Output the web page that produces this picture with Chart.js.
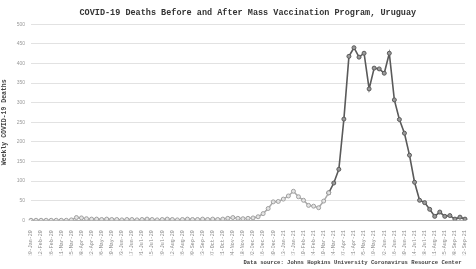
<!DOCTYPE html>
<html>
<head>
<meta charset="utf-8">
<script src="https://cdn.jsdelivr.net/npm/chart.js@4.4.1/dist/chart.umd.min.js"></script>
<style>
  html, body { margin: 0; padding: 0; background: #fff; }
  #wrap { width: 476px; height: 269px; }
</style>
</head>
<body>
<div id="wrap"><canvas id="deathsChart"></canvas></div>
<script>
// Weekly dates (x axis categories)
const weeks = [
  "29-Jan-20", "05-Feb-20", "12-Feb-20", "19-Feb-20", "26-Feb-20", "04-Mar-20",
  "11-Mar-20", "18-Mar-20", "25-Mar-20", "01-Apr-20", "08-Apr-20", "15-Apr-20",
  "22-Apr-20", "29-Apr-20", "06-May-20", "13-May-20", "20-May-20", "27-May-20",
  "03-Jun-20", "10-Jun-20", "17-Jun-20", "24-Jun-20", "01-Jul-20", "08-Jul-20",
  "15-Jul-20", "22-Jul-20", "29-Jul-20", "05-Aug-20", "12-Aug-20", "19-Aug-20",
  "26-Aug-20", "02-Sep-20", "09-Sep-20", "16-Sep-20", "23-Sep-20", "30-Sep-20",
  "07-Oct-20", "14-Oct-20", "21-Oct-20", "28-Oct-20", "04-Nov-20", "11-Nov-20",
  "18-Nov-20", "25-Nov-20", "02-Dec-20", "09-Dec-20", "16-Dec-20", "23-Dec-20",
  "30-Dec-20", "06-Jan-21", "13-Jan-21", "20-Jan-21", "27-Jan-21", "03-Feb-21",
  "10-Feb-21", "17-Feb-21", "24-Feb-21", "03-Mar-21", "10-Mar-21", "17-Mar-21",
  "24-Mar-21", "31-Mar-21", "07-Apr-21", "14-Apr-21", "21-Apr-21", "28-Apr-21",
  "05-May-21", "12-May-21", "19-May-21", "26-May-21", "02-Jun-21", "09-Jun-21",
  "16-Jun-21", "23-Jun-21", "30-Jun-21", "07-Jul-21", "14-Jul-21", "21-Jul-21",
  "28-Jul-21", "04-Aug-21", "11-Aug-21", "18-Aug-21", "25-Aug-21", "01-Sep-21",
  "08-Sep-21", "15-Sep-21", "22-Sep-21",
];

// Weekly deaths, before mass vaccination
const deathsBefore = [
  0, 0, 0, 0, 0, 0, 0, 0, 1, 7, 6, 4,
  3, 3, 2, 3, 2, 2, 1, 2, 2, 1, 2, 3,
  2, 1, 2, 3, 2, 1, 2, 3, 2, 2, 3, 2,
  3, 2, 3, 5, 7, 5, 4, 5, 6, 9, 17, 30,
  47, 48, 54, 62, 74, 60, 51, 38, 36, 32, 49, 70,
];

// Weekly deaths, after mass vaccination started
const deathsAfter = [
  70, 95, 130, 258, 418, 440, 416, 426, 335, 388, 386, 375,
  426, 307, 257, 222, 166, 97, 51, 45, 28, 10, 21, 10,
  12, 3, 8, 3,
];

// Y axis ticks
const yMax = 500;
const yStep = 50;

// leading spaces push the title over the plot centre
const titleText = "      COVID-19 Deaths Before and After Mass Vaccination Program, Uruguay";
const sourceText = "Data source: Johns Hopkins University Coronavirus Resource Center ";

function buatChart() {
  const ctx = document.getElementById("deathsChart").getContext("2d");

  // line "after" starts where "before" ends
  const offset = deathsBefore.length - 1;
  const afterSeries = weeks.map((w, i) => (i >= offset ? deathsAfter[i - offset] : null));

  new Chart(ctx, {
    type: "line",
    data: {
      labels: weeks,
      datasets: [
        {
          label: "Before",
          data: deathsBefore,
          borderColor: "#a8a8a8",
          borderWidth: 1.5,
          pointRadius: 2,
          pointBorderWidth: 1,
          pointBorderColor: "#a0a0a0",
          pointBackgroundColor: "#e4e4e4",
          tension: 0,
        },
        {
          label: "After",
          data: afterSeries,
          borderColor: "#5a5a5a",
          borderWidth: 1.6,
          pointRadius: 2,
          pointBorderWidth: 1,
          pointBorderColor: "#5a5a5a",
          pointBackgroundColor: "#9a9a9a",
          tension: 0,
        },
      ],
    },
    options: {
      responsive: true,
      maintainAspectRatio: false,
      animation: false,
      layout: { padding: { left: 0, right: 11, top: 0, bottom: 0 } },
      plugins: {
        legend: { display: false },
        tooltip: { enabled: false },
        title: {
          display: true,
          text: titleText,
          color: "#333",
          font: { family: "Liberation Mono", size: 8.5, weight: "bold" },
          padding: { top: 8, bottom: 6 },
        },
        subtitle: {
          display: true,
          text: sourceText,
          position: "bottom",
          align: "end",
          color: "#444",
          font: { family: "Liberation Mono", size: 5.6, weight: "bold" },
          padding: { top: 4, bottom: 3 },
        },
      },
      scales: {
        x: {
          grid: { display: false },
          border: { color: "#b0b0b0" },
          ticks: {
            autoSkip: false,
            maxRotation: 90,
            minRotation: 90,
            padding: 2,
            color: "#888",
            font: { family: "Liberation Mono", size: 5 },
            callback: function (value, index) {
              return index % 2 === 0 ? weeks[index] : null;
            },
          },
          afterFit: function (scale) {
            scale.height = 35;
          },
        },
        y: {
          min: 0,
          max: yMax,
          grid: { color: "#e2e2e2", drawTicks: false },
          border: { display: false },
          ticks: {
            stepSize: yStep,
            padding: 6,
            color: "#999",
            font: { family: "Liberation Sans", size: 5 },
          },
          title: {
            display: true,
            text: "Weekly COVID-19 Deaths",
            color: "#444",
            font: { family: "Liberation Mono", size: 6.5, weight: "bold" },
            padding: { top: 0, bottom: 0 },
          },
          afterFit: function (scale) {
            scale.width = 31;
          },
        },
      },
    },
  });
}

document.addEventListener("DOMContentLoaded", function () {
  buatChart();
});
</script>
</body>
</html>
